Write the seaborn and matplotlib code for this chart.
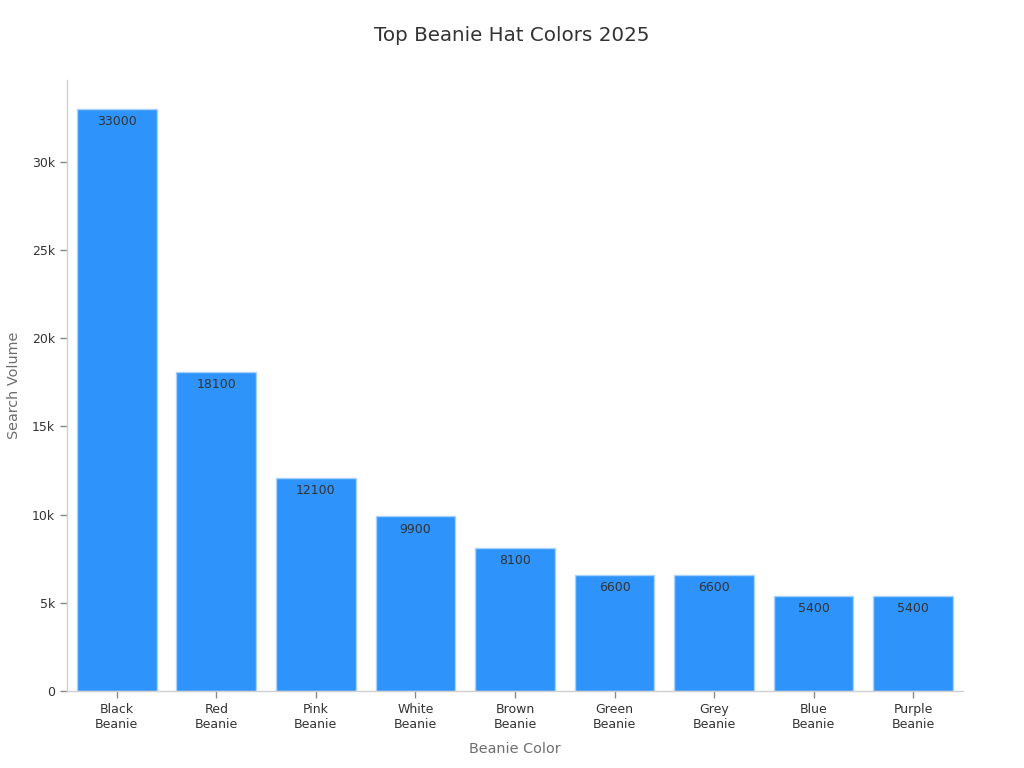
import matplotlib
matplotlib.use("Agg")
import matplotlib.pyplot as plt
import seaborn as sns
import pandas as pd
from matplotlib.ticker import FuncFormatter

categories = ["Black\nBeanie", "Red\nBeanie", "Pink\nBeanie", "White\nBeanie", "Brown\nBeanie",
              "Green\nBeanie", "Grey\nBeanie", "Blue\nBeanie", "Purple\nBeanie"]
values = [33000, 18100, 12100, 9900, 8100, 6600, 6600, 5400, 5400]

sns.set_style("white")
plt.rcParams['font.family'] = ['DejaVu Sans']

df = pd.DataFrame({"color": categories, "volume": values})

fig = plt.figure(figsize=(10.24, 7.68), dpi=100)
ax = fig.add_axes([0.0654, 0.1003, 0.8750, 0.7956])

sns.barplot(data=df, x="color", y="volume", color="#2E93FA", saturation=1,
            width=0.8, edgecolor="#A9D2FB", linewidth=1, ax=ax)

for i, v in enumerate(values):
    ax.text(i, v - 350, str(v), ha="center", va="top", fontsize=9, color="#333333")

ax.set_xlim(-0.5, len(values) - 0.5)
ax.set_ylim(0, 34650)
ax.set_yticks([0, 5000, 10000, 15000, 20000, 25000, 30000])
ax.yaxis.set_major_formatter(FuncFormatter(lambda v, p: "0" if v == 0 else f"{int(v/1000)}k"))

for s in ["top", "right"]:
    ax.spines[s].set_visible(False)
for s in ["left", "bottom"]:
    ax.spines[s].set_color("#D0D0D0")
    ax.spines[s].set_linewidth(1)

ax.tick_params(axis="both", which="both", length=5, width=1, color="#888888",
               labelsize=9, labelcolor="#333333", left=True, bottom=True)

ax.set_xlabel("Beanie Color", fontsize=10.4, color="#6E6E6E", labelpad=8)
ax.set_ylabel("Search Volume", fontsize=10.4, color="#6E6E6E", labelpad=8)
fig.suptitle("Top Beanie Hat Colors 2025", fontsize=14.3, color="#333333", y=0.966)

fig.savefig("out.png", dpi=100)
